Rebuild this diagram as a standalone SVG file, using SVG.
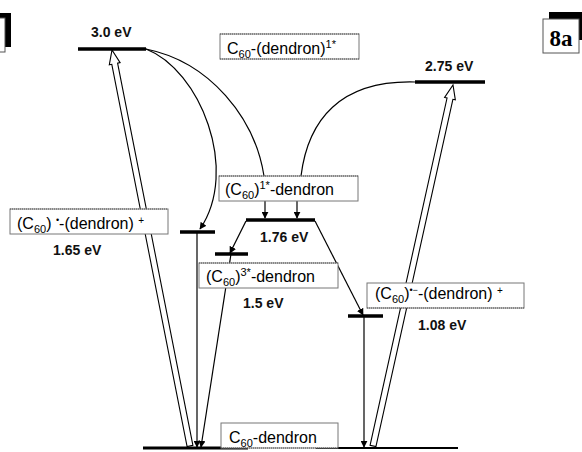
<svg xmlns="http://www.w3.org/2000/svg" width="582" height="452" viewBox="0 0 582 452">
<defs>
<marker id="ah" viewBox="0 0 10 10" refX="9" refY="5" markerWidth="7" markerHeight="7" markerUnits="userSpaceOnUse" orient="auto"><path d="M0,0 L10,5 L0,10 z" fill="#000"/></marker>
<style>
.lvl{stroke:#000;stroke-width:3.5;fill:none}
.cn{stroke:#000;stroke-width:1.2;fill:none}
.open{fill:#fff;stroke:#000;stroke-width:1.1;stroke-linejoin:miter}
.box{fill:#fff;stroke:#777;stroke-width:1}
.dot{stroke:#555;stroke-width:1;stroke-dasharray:1 1}
.lbl{font-family:"Liberation Sans",Arial,sans-serif;font-size:16px;fill:#000}
.ev{font-family:"Liberation Sans",Arial,sans-serif;font-size:14px;font-weight:bold;fill:#111}
</style>
</defs>
<rect width="582" height="452" fill="#fff"/>
<g id="corner-left">
<rect x="0" y="13" width="11" height="34" fill="#000"/>
<rect x="-2" y="18" width="7" height="34" fill="#fff" stroke="#555" stroke-width="1"/>
</g>
<g id="label-8a">
<rect x="549" y="12" width="33" height="28" fill="#000"/>
<rect x="543" y="19" width="36" height="34" fill="#fff" stroke="#555" stroke-width="1"/>
<text x="561" y="46" text-anchor="middle" font-family="Liberation Serif,serif" font-size="23" font-weight="bold">8a</text>
</g>
<g id="connectors">
<polygon class="open" points="187.1,446.6 111.8,64.3 109.3,64.8 112,50 120.1,62.6 117.6,63.1 192.9,445.4"/>
<polygon class="open" points="370.07,445.35 447.04,98.02 444.6,97.48 453,85 455.34,99.86 452.9,99.32 375.93,446.65"/>
<path class="cn" d="M146,49 C200,70 240,170 200,229" marker-end="url(#ah)"/>
<path class="cn" d="M146,49 C210,62 255,118 264,176"/>
<path class="cn" d="M415,82 C340,80 308,120 301,176"/>
<path class="cn" d="M265,201 L265,218" marker-end="url(#ah)"/>
<path class="cn" d="M297,201 L297,218" marker-end="url(#ah)"/>
<path class="cn" d="M246,221 L230,253" marker-end="url(#ah)"/>
<path class="cn" d="M315,221 L363,315" marker-end="url(#ah)"/>
<path class="cn" d="M231,254 L201,447" marker-end="url(#ah)"/>
<path class="cn" d="M197,233 L197,447" marker-end="url(#ah)"/>
<path class="cn" d="M364,317 L364,447" marker-end="url(#ah)"/>
</g>
<g id="level-3.0">
<line class="lvl" x1="78" y1="49" x2="146" y2="49"/>
<text class="ev" x="91" y="37">3.0 eV</text>
</g>
<g id="level-2.75">
<line class="lvl" x1="415" y1="82" x2="485" y2="82"/>
<text class="ev" x="425" y="71">2.75 eV</text>
</g>
<g id="level-1.76">
<line class="lvl" x1="246" y1="220" x2="315" y2="220"/>
<text class="ev" x="260" y="242">1.76 eV</text>
</g>
<g id="level-1.65">
<line class="lvl" x1="180" y1="232" x2="215" y2="232"/>
<text class="ev" x="53" y="255">1.65 eV</text>
</g>
<g id="level-1.5">
<line class="lvl" x1="215" y1="254" x2="248" y2="254"/>
<text class="ev" x="243" y="308">1.5 eV</text>
</g>
<g id="level-1.08">
<line class="lvl" x1="348" y1="316" x2="383" y2="316"/>
<text class="ev" x="418" y="330">1.08 eV</text>
</g>
<g id="ground">
<line x1="143" y1="448" x2="248" y2="448" stroke="#000" stroke-width="3"/>
<line x1="316" y1="448" x2="458" y2="448" stroke="#000" stroke-width="1.8"/>
</g>
<g id="box-singlet-dendron">
<rect class="box" x="220" y="34" width="139" height="25"/>
<line class="dot" x1="220" y1="34" x2="359" y2="34"/>
<line class="dot" x1="220" y1="59" x2="359" y2="59"/>
<text class="lbl" x="227" y="54">C<tspan font-size="11" dy="4">60</tspan><tspan dy="-4">-(dendron)</tspan><tspan font-size="11" dy="-6">1*</tspan></text>
</g>
<g id="box-singlet-c60">
<rect class="box" x="219" y="176" width="139" height="25"/>
<line class="dot" x1="219" y1="176" x2="358" y2="176"/>
<text class="lbl" x="225" y="195">(C<tspan font-size="11" dy="4">60</tspan><tspan dy="-4">)</tspan><tspan font-size="11" dy="-6">1*</tspan><tspan dy="6">-dendron</tspan></text>
</g>
<g id="box-triplet-c60">
<rect class="box" x="199" y="263" width="139" height="25"/>
<line class="dot" x1="199" y1="263" x2="338" y2="263"/>
<text class="lbl" x="206" y="282">(C<tspan font-size="11" dy="4">60</tspan><tspan dy="-4">)</tspan><tspan font-size="11" dy="-6">3*</tspan><tspan dy="6">-dendron</tspan></text>
</g>
<g id="box-cs-left">
<rect class="box" x="10" y="209" width="158" height="25"/>
<line class="dot" x1="10" y1="209" x2="168" y2="209"/>
<text class="lbl" x="17" y="229">(C<tspan font-size="11" dy="4">60</tspan><tspan dy="-4">) </tspan><tspan font-size="9" dy="-6">•</tspan><tspan dy="6">-(dendron) </tspan><tspan font-size="10" dy="-5">+</tspan></text>
</g>
<g id="box-cs-right">
<rect class="box" x="367" y="283" width="157" height="25"/>
<line class="dot" x1="367" y1="308" x2="524" y2="308"/>
<text class="lbl" x="375" y="299">(C<tspan font-size="11" dy="4">60</tspan><tspan dy="-4">)</tspan><tspan font-size="9" dy="-6">•−</tspan><tspan dy="6">-(dendron) </tspan><tspan font-size="10" dy="-5">+</tspan></text>
</g>
<g id="box-ground">
<rect class="box" x="221" y="423" width="117" height="25"/>
<line class="dot" x1="221" y1="448" x2="338" y2="448"/>
<text class="lbl" x="229" y="443">C<tspan font-size="11" dy="4">60</tspan><tspan dy="-4">-dendron</tspan></text>
</g>
</svg>
